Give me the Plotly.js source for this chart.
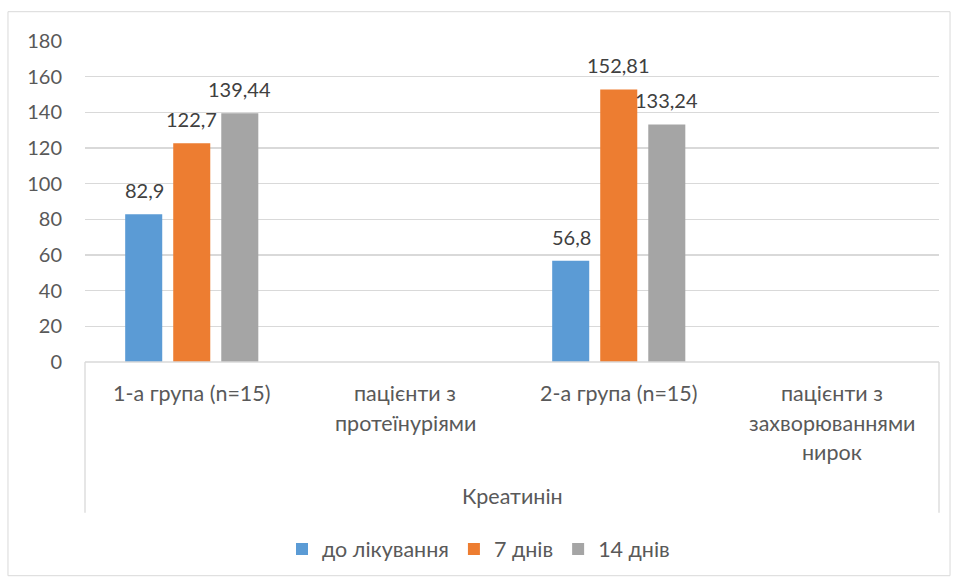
<!DOCTYPE html>
<html><head><meta charset="utf-8">
<script src="https://cdn.plot.ly/plotly-3.0.1.min.js"></script>
<style>html,body{margin:0;padding:0;background:#fff}#chart{width:957px;height:583px}</style>
</head><body><div id="chart"></div>
<script>
const categories = ["1-а група (n=15)", "пацієнти з протеїнуріями", "2-а група (n=15)", "пацієнти з захворюваннями нирок"];
const categoryLines = [["1-а група (n=15)"], ["пацієнти з", "протеїнуріями"], ["2-а група (n=15)"], ["пацієнти з", "захворюваннями", "нирок"]];
const groupLabel = "Креатинін";
const seriesNames = ["до лікування", "7 днів", "14 днів"];
const before = [82.9, null, 56.8, null];
const day7 = [122.7, null, 152.81, null];
const day14 = [139.44, null, 133.24, null];
const colors = ["#5b9bd5", "#ed7d31", "#a5a5a5"];
const yTicks = [0, 20, 40, 60, 80, 100, 120, 140, 160, 180];

const FONT = "Lato, 'Open Sans', sans-serif";
const FS = 20;
const FS_CAT = 21.5;
const fmt = v => String(v).replace(".", ",");
const series = [before, day7, day14];
const traces = series.map((vals, i) => ({
  type: "bar", name: seriesNames[i], x: categories, y: vals,
  marker: {color: colors[i]}, hoverinfo: "skip"
}));

const annotations = [];
// data labels placed at each bar's value through the axes
series.forEach((vals, i) => {
  vals.forEach((v, ci) => {
    if (v == null) return;
    annotations.push({x: categories[ci], xref: "x", y: v, yref: "y", yanchor: "bottom",
      xshift: (i - 1) * 47.5, yshift: 10, text: fmt(v), showarrow: false,
      font: {family: FONT, size: FS, color: "#404040"}});
  });
});
categoryLines.forEach((lines, ci) => {
  lines.forEach((ln, li) => {
    annotations.push({x: categories[ci], xref: "x", y: 0, yref: "paper", yanchor: "middle",
      yshift: -31 - li * 29.5, text: ln, showarrow: false,
      font: {family: FONT, size: FS_CAT, color: "#595959"}});
  });
});
annotations.push({x: 0.5, xref: "paper", y: 0, yref: "paper", yanchor: "middle", yshift: -134,
  text: groupLabel, showarrow: false, font: {family: FONT, size: FS_CAT, color: "#595959"}});

const H = 321;
const shapes = [
  {type: "rect", xref: "paper", yref: "paper", x0: -0.0902, x1: 1.0129, y0: (362.3-576)/H, y1: (362.3-12)/H,
   line: {color: "#d9d9d9", width: 1}, layer: "below"},
  {type: "line", xref: "paper", yref: "paper", x0: 0, x1: 1, y0: 0, y1: 0, line: {color: "#d9d9d9", width: 1.3}},
  {type: "line", xref: "paper", yref: "paper", x0: 0, x1: 0, y0: 0, y1: (362.3-513)/H, line: {color: "#d9d9d9", width: 1.3}},
  {type: "line", xref: "paper", yref: "paper", x0: 1, x1: 1, y0: 0, y1: (362.3-513)/H, line: {color: "#d9d9d9", width: 1.3}}
];

const layout = {
  width: 957, height: 583,
  margin: {l: 85, r: 18, t: 41, b: 221},
  paper_bgcolor: "#fff", plot_bgcolor: "#fff",
  font: {family: FONT, size: FS, color: "#595959"},
  barmode: "group", bargap: 0.325, bargroupgap: 0.229,
  xaxis: {type: "category", showticklabels: false, showgrid: false, zeroline: false, showline: false, ticks: ""},
  yaxis: {range: [0, 180], tickvals: yTicks, ticktext: yTicks.map(String), showgrid: true, gridcolor: "#d9d9d9", gridwidth: 1.3,
    zeroline: false, showline: false, ticks: "", ticklabelstandoff: 22,
    tickfont: {family: FONT, size: FS, color: "#595959"}},
  showlegend: true,
  legend: {orientation: "h", x: 0.5, xanchor: "center", xref: "container", y: 1 - 549/583, yref: "container", yanchor: "middle",
    font: {family: FONT, size: FS_CAT, color: "#595959"}, traceorder: "normal", itemwidth: 30},
  annotations, shapes
};
Plotly.newPlot("chart", traces, layout, {displayModeBar: false, staticPlot: true});
</script></body></html>
